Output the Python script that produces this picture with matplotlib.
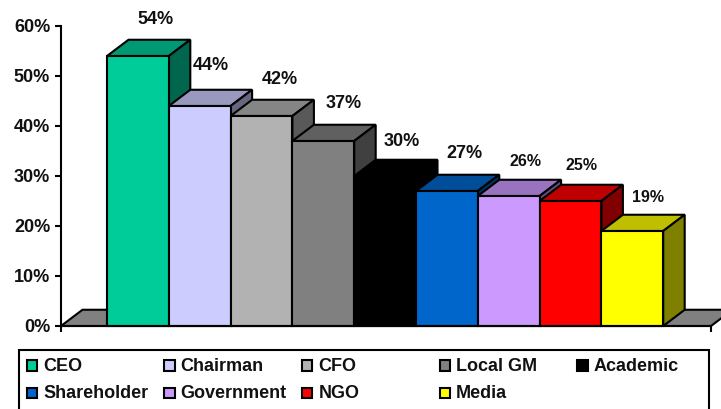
import matplotlib
matplotlib.use('Agg')
import matplotlib.pyplot as plt
from matplotlib.patches import Polygon, Rectangle

# data
categories = ['CEO', 'Chairman', 'CFO', 'Local GM', 'Academic',
              'Shareholder', 'Government', 'NGO', 'Media']
values = [54, 44, 42, 37, 30, 27, 26, 25, 19]
colors = ['#00CC99', '#CCCCFF', '#B2B2B2', '#808080', '#000000',
          '#0066CC', '#CC99FF', '#FF0000', '#FFFF00']
yticks = [0, 10, 20, 30, 40, 50, 60]

# label nudges, pixels from the bar's top centre
label_dx = [18, 11, 18.5, 20, 17, 18, 17, 11.5, 16]
label_dy = [36, 40, 36, 37, 35, 37, 35, 35, 33]
label_size = [13, 13, 13, 13, 13, 13, 11.5, 11.5, 11.5]

W, H = 721, 409
plt.rcParams['font.family'] = ['Liberation Sans', 'DejaVu Sans']
plt.rcParams['font.weight'] = 'bold'


def shade(color, k):
    r, g, b = matplotlib.colors.to_rgb(color)
    return (r * k, g * k, b * k)


fig = plt.figure(figsize=(W / 100, H / 100), dpi=100)
ax = fig.add_axes([61 / W, (H - 326) / H, 650 / W, 300 / H])
xmin, xmax = -46 / 61.8, 604 / 61.8
ax.set_xlim(xmin, xmax)
ax.set_ylim(0, 60)
ax.set_facecolor('none')

depth_x = 21.5 / 61.8
depth_y = 3.25
lw = 1.5

# floor
ax.add_patch(Polygon([(xmin, 0), (xmin + depth_x, depth_y),
                      (xmax + depth_x, depth_y), (xmax, 0)],
                     facecolor='#808080', edgecolor='black', lw=lw,
                     clip_on=False, zorder=1))

# bars, left to right so each one covers the side of the previous one
for i, (v, c) in enumerate(zip(values, colors)):
    z = 2 + i
    ax.bar(i, v, width=1, align='edge', color=c, edgecolor='black',
           linewidth=lw, zorder=z + 0.5, clip_on=False)
    ax.add_patch(Polygon([(i, v), (i + depth_x, v + depth_y),
                          (i + 1 + depth_x, v + depth_y), (i + 1, v)],
                         facecolor=shade(c, 0.75), edgecolor='black', lw=lw,
                         clip_on=False, zorder=z))
    ax.add_patch(Polygon([(i + 1, 0), (i + 1 + depth_x, depth_y),
                          (i + 1 + depth_x, v + depth_y), (i + 1, v)],
                         facecolor=shade(c, 0.5), edgecolor='black', lw=lw,
                         clip_on=False, zorder=z))
    ax.annotate('%d%%' % v, (i + 0.5, v), xytext=(label_dx[i], label_dy[i]),
                textcoords='offset pixels', ha='center', va='center',
                fontsize=label_size[i], color='#111111', zorder=30,
                annotation_clip=False)

# axes
for s in ['top', 'right']:
    ax.spines[s].set_visible(False)
for s in ['left', 'bottom']:
    ax.spines[s].set_linewidth(lw)
    ax.spines[s].set_zorder(20)
ax.set_yticks(yticks)
ax.set_yticklabels(['%d%%' % t for t in yticks], fontsize=13, color='#111111')
ax.set_xticks([xmin, xmax])
ax.set_xticklabels([])
ax.tick_params(axis='both', length=4.3, width=lw, pad=3.5)

# legend box, runs off the bottom of the image
fig.add_artist(Rectangle((18.5 / W, -0.02), 690.5 / W, (H - 350) / H + 0.02,
                         facecolor='white', edgecolor='black', lw=lw,
                         transform=fig.transFigure))
for i, (name, c) in enumerate(zip(categories, colors)):
    row, col = divmod(i, 5)
    x0 = 26.5 + col * 137.7
    y0 = 360 + row * 27.5
    fig.add_artist(Rectangle((x0 / W, (H - y0 - 10.5) / H), 10.5 / W, 10.5 / H,
                             facecolor=c, edgecolor='black', lw=lw,
                             transform=fig.transFigure))
    fig.text((x0 + 16.5) / W, (H - y0 - 6.5) / H, name, fontsize=13,
             va='center', ha='left', color='#111111')

fig.savefig('out.png', dpi=100)
